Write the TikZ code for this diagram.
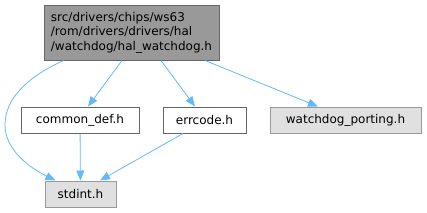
\documentclass[tikz,border=0pt]{standalone}
\usepackage{fontspec}
\setmainfont{DejaVu Sans}
\usetikzlibrary{arrows.meta,calc}
\definecolor{edgeblue}{HTML}{63B8FF}
\definecolor{topfill}{HTML}{999999}
\definecolor{topdraw}{HTML}{666666}
\definecolor{extfill}{HTML}{E0E0E0}
\definecolor{extdraw}{HTML}{999999}
\begin{document}
\begin{tikzpicture}[x=1pt,y=-1pt,
  basebox/.style={rectangle, inner sep=0pt, minimum height=26pt, line width=1pt,
    font=\fontsize{12}{14.5}\selectfont},
  filebox/.style={basebox, draw=topdraw, fill=white},
  extbox/.style={basebox, draw=extdraw, fill=extfill},
  topbox/.style={basebox, draw=topdraw, fill=topfill, align=left, minimum width=175pt, minimum height=55pt},
  edge/.style={draw=edgeblue, line width=0.8pt, -{Triangle[length=10pt,width=8pt]}}]
\useasboundingbox (0,0) rectangle (427,212);
\node[topbox] (top) at (131.5,32.5) {src/drivers/chips/ws63\\/rom/drivers/drivers/hal\\/watchdog/hal\_watchdog.h};
\node[filebox, minimum width=118pt] (common) at (80,120) {common\_def.h};
\node[filebox, minimum width=83pt] (err) at (204.5,120) {errcode.h};
\node[extbox, minimum width=151pt] (wdp) at (345.5,120) {watchdog\_porting.h};
\node[extbox, minimum width=71pt] (std) at (80.5,194) {stdint.h};
\draw[edge] ($(top.south)+(-9.5,0)$) -- ($(common.north)+(8,0)$);
\draw[edge] ($(top.south)+(29.5,0)$) -- ($(err.north)+(-9.5,0)$);
\draw[edge] ($(top.south)+(73.5,0)$) -- ($(wdp.north)+(-27.5,0)$);
\draw[edge] (common) -- (std);
\draw[edge] ($(err.south)+(-21.5,0)$) -- ($(std.north)+(19.5,0)$);
\draw[edge] ($(top.south west)+(20,0)$) .. controls (25,78) and (5,100) .. (5,125) .. controls (5,150) and (30,168) .. ($(std.north west)+(11,0)$);
\end{tikzpicture}
\end{document}
